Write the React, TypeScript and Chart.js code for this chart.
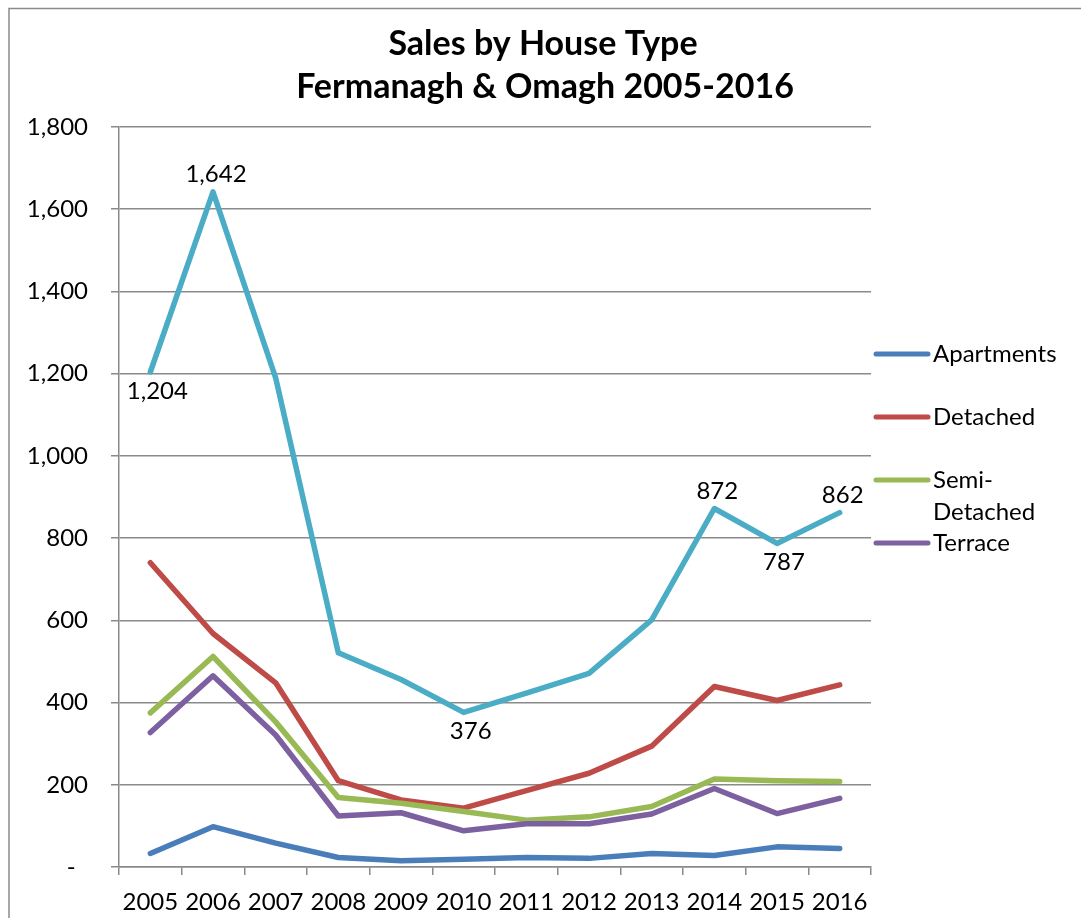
import React, { useEffect, useRef } from 'react';
import { Chart, registerables } from 'chart.js';

Chart.register(...registerables);

const titleLines = ['Sales by House Type', 'Fermanagh & Omagh 2005-2016'];
const years = ['2005', '2006', '2007', '2008', '2009', '2010', '2011', '2012', '2013', '2014', '2015', '2016'];
const apartments = [33, 98, 58, 23, 15, 19, 23, 21, 33, 28, 49, 45];
const detached = [740, 568, 448, 210, 163, 143, 186, 228, 294, 439, 405, 443];
const semiDetached = [375, 512, 353, 169, 155, 135, 114, 122, 147, 214, 210, 208];
const terrace = [327, 465, 321, 124, 132, 88, 105, 105, 129, 191, 130, 167];
const total = [1204, 1642, 1190, 521, 456, 376, 423, 471, 601, 872, 787, 862];
const totalLabelPositions = ['below', 'above', null, null, null, 'below', null, null, null, 'above', 'below', 'above'];
const yMin = 0;
const yMax = 1800;
const yStep = 200;

const seriesNames = ['Apartments', 'Detached', 'Semi-Detached', 'Terrace', 'Total'];
const seriesColors = ['#4A7EBB', '#BE4B48', '#98B954', '#7D60A0', '#4BACC6'];
const legendSeries = [0, 1, 2, 3];

const FONT = 'Lato, "Noto Sans", sans-serif';

const fmt = (v: number) => v.toLocaleString('en-US');

export default function App() {
  const ref = useRef<HTMLCanvasElement | null>(null);

  useEffect(() => {
    document.body.style.margin = '0';
    const canvas = ref.current;
    if (!canvas) return;

    const frame = {
      id: 'frame',
      beforeDraw(chart: any) {
        const ctx = chart.ctx;
        ctx.save();
        ctx.fillStyle = '#ffffff';
        ctx.fillRect(0, 0, chart.width, chart.height);
        ctx.strokeStyle = '#8a8a8a';
        ctx.lineWidth = 1.5;
        ctx.beginPath();
        ctx.moveTo(9, chart.height);
        ctx.lineTo(9, 8.5);
        ctx.lineTo(chart.width, 8.5);
        ctx.stroke();
        // title
        ctx.fillStyle = '#000';
        ctx.textAlign = 'center';
        ctx.textBaseline = 'alphabetic';
        ctx.font = `bold 34px ${FONT}`;
        ctx.fillText(titleLines[0], 543, 55);
        ctx.fillText(titleLines[1], 545, 98);
        ctx.restore();
      },
    };

    const dataLabels = {
      id: 'dataLabels',
      afterDatasetsDraw(chart: any) {
        const ctx = chart.ctx;
        const meta = chart.getDatasetMeta(4);
        ctx.save();
        ctx.fillStyle = '#000';
        ctx.font = `24px ${FONT}`;
        ctx.textAlign = 'center';
        meta.data.forEach((pt: any, i: number) => {
          const pos = totalLabelPositions[i];
          if (!pos) return;
          const text = fmt(total[i]);
          if (pos === 'above') {
            ctx.textBaseline = 'alphabetic';
            ctx.fillText(text, pt.x + 3, pt.y - 10);
          } else {
            ctx.textBaseline = 'top';
            ctx.fillText(text, pt.x + 7, pt.y + 7);
          }
        });
        ctx.restore();
      },
    };

    const legend = {
      id: 'customLegend',
      afterDraw(chart: any) {
        const ctx = chart.ctx;
        ctx.save();
        ctx.font = `24px ${FONT}`;
        ctx.textBaseline = 'middle';
        ctx.textAlign = 'left';
        let y = 354;
        legendSeries.forEach((si) => {
          ctx.strokeStyle = seriesColors[si];
          ctx.lineWidth = 5;
          ctx.lineCap = 'round';
          ctx.beginPath();
          ctx.moveTo(876, y);
          ctx.lineTo(928, y);
          ctx.stroke();
          ctx.fillStyle = '#000';
          const name = seriesNames[si];
          let lines = [name];
          if (ctx.measureText(name).width > 136 && name.includes('-')) {
            const k = name.indexOf('-') + 1;
            lines = [name.slice(0, k), name.slice(k)];
          }
          lines.forEach((ln, j) => ctx.fillText(ln, 933, y + j * 32));
          y += 63;
        });
        ctx.restore();
      },
    };

    const datasets = [apartments, detached, semiDetached, terrace, total].map((d, i) => ({
      label: seriesNames[i],
      data: d,
      borderColor: seriesColors[i],
      backgroundColor: seriesColors[i],
      borderWidth: 5.5,
      borderCapStyle: 'round' as const,
      borderJoinStyle: 'round' as const,
      pointRadius: 0,
      tension: 0,
      fill: false,
      order: 5 - i,
    }));

    const chart = new Chart(canvas, {
      type: 'line',
      data: { labels: years, datasets },
      options: {
        animation: false,
        responsive: false,
        maintainAspectRatio: false,
        layout: { padding: { left: 0, right: 210, top: 127, bottom: 0 } },
        plugins: {
          legend: { display: false },
          title: { display: false },
          tooltip: { enabled: false },
        },
        scales: {
          x: {
            type: 'category',
            offset: true,
            grid: {
              display: true,
              offset: true,
              drawOnChartArea: false,
              drawTicks: true,
              tickLength: 8,
              color: '#8a8a8a',
              lineWidth: 1.5,
            },
            border: { display: true, color: '#8a8a8a', width: 1.5 },
            ticks: {
              color: '#000',
              font: { family: FONT, size: 24 },
              padding: 13,
              maxRotation: 0,
              autoSkip: false,
            },
            afterFit(scale: any) {
              scale.height = 51;
            },
          },
          y: {
            min: yMin,
            max: yMax,
            grid: {
              color: '#8a8a8a',
              lineWidth: 1.5,
              drawTicks: true,
              tickLength: 8,
            },
            border: { display: true, color: '#8a8a8a', width: 1.5 },
            ticks: {
              stepSize: yStep,
              color: '#000',
              font: { family: FONT, size: 24 },
              padding: 23,
              callback: (v: any) => (Number(v) === 0 ? '-  ' : fmt(Number(v))),
            },
            afterFit(scale: any) {
              scale.width = 119;
            },
          },
        },
      },
      plugins: [frame, dataLabels, legend],
    });

    return () => chart.destroy();
  }, []);

  return <canvas ref={ref} width={1081} height={918} style={{ display: 'block' }} />;
}
